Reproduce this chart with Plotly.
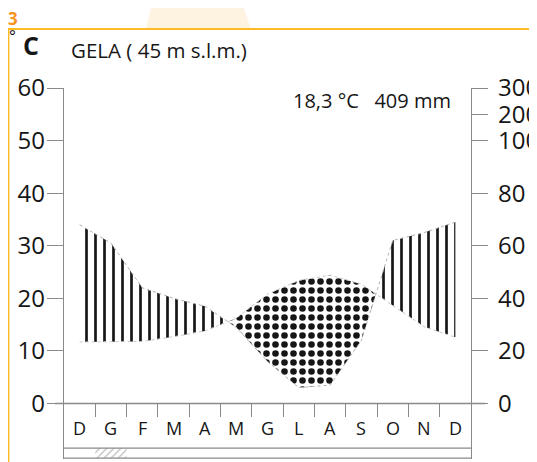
import numpy as np
import plotly.graph_objects as go

# ---------------- data ----------------
months = ["D", "G", "F", "M", "A", "M", "G", "L", "A", "S", "O", "N", "D"]
temp_c = [11.7, 11.7, 11.8, 12.7, 13.8, 16.2, 20.8, 23.4, 24.4, 22.7, 18.7, 14.6, 12.6]
precip_mm = [68, 61, 44, 40, 37, 29, 16, 6, 7, 24, 62, 65, 69]
frost_prob = [0, 1, 0, 0, 0, 0, 0, 0, 0, 0, 0, 0, 0]   # hatched frost month (G)
temp_ticks = [0, 10, 20, 30, 40, 50, 60]
precip_ticks = [0, 20, 40, 60, 80, 100, 200, 300]
station = "GELA ( 45 m s.l.m.)"
summary = "18,3 °C   409 mm"
panel_number = "3"

# ---------------- geometry ----------------
OFF = 8                      # page offset of the plot div (body margin)
W, H = 537 - OFF, 462 - OFF
ML, MR, MT, MB = 56, 66, 80, 3
PW, PH = W - ML - MR, H - MT - MB
YMIN, YMAX = -10.555, 60.0
XMIN, XMAX = 0.0, 13.0


def px_x(p):   # page pixel -> paper x
    return (p - OFF - ML) / PW


def px_y(p):   # page pixel -> paper y
    return (H - MB - (p - OFF)) / PH


def p_scale(p):
    p = np.asarray(p, dtype=float)
    return np.where(p <= 100, p / 2.0, 50 + (p - 100) / 20.0)


xm = np.arange(len(months)) + 0.5
T = np.array(temp_c, dtype=float)
Pe = p_scale(precip_mm)

# insert crossing points so that the humid/arid fills meet exactly
xs, ts, ps = [xm[0]], [T[0]], [Pe[0]]
for i in range(len(xm) - 1):
    d0 = Pe[i] - T[i]
    d1 = Pe[i + 1] - T[i + 1]
    if d0 * d1 < 0:
        f = d0 / (d0 - d1)
        xc = xm[i] + f * (xm[i + 1] - xm[i])
        tc = T[i] + f * (T[i + 1] - T[i])
        xs.append(xc); ts.append(tc); ps.append(tc)
    xs.append(xm[i + 1]); ts.append(T[i + 1]); ps.append(Pe[i + 1])
xs, ts, ps = np.array(xs), np.array(ts), np.array(ps)
upper_h = np.maximum(ps, ts)
lower_a = np.minimum(ps, ts)

INK = "#161616"
AX = "#8a8a8a"
NUMFONT = "Open Sans"

fig = go.Figure()

# humid period: vertical lines
fig.add_trace(go.Scatter(x=xs, y=ts, mode="lines", line=dict(width=0),
                         hoverinfo="skip", showlegend=False))
fig.add_trace(go.Scatter(x=xs, y=upper_h, mode="lines", line=dict(width=0),
                         fill="tonexty", fillcolor=INK,
                         fillpattern=dict(shape="|", size=9, solidity=0.3,
                                          fgcolor=INK, fgopacity=1, bgcolor="white"),
                         hoverinfo="skip", showlegend=False))
# arid period: dots
fig.add_trace(go.Scatter(x=xs, y=lower_a, mode="lines", line=dict(width=0),
                         hoverinfo="skip", showlegend=False))
fig.add_trace(go.Scatter(x=xs, y=ts, mode="lines", line=dict(width=0),
                         fill="tonexty", fillcolor=INK,
                         fillpattern=dict(shape=".", size=9, solidity=0.42,
                                          fgcolor=INK, fgopacity=1, bgcolor="white"),
                         hoverinfo="skip", showlegend=False))
# faint outlines of the curves
fig.add_trace(go.Scatter(x=xm, y=Pe, mode="lines",
                         line=dict(color="#b0b0b0", width=1, dash="dot"),
                         hoverinfo="skip", showlegend=False))
fig.add_trace(go.Scatter(x=xm, y=T, mode="lines",
                         line=dict(color="#c8c8c8", width=1, dash="dot"),
                         hoverinfo="skip", showlegend=False))

# frost strip (hatched month)
for i, f in enumerate(frost_prob):
    if f:
        fig.add_trace(go.Scatter(x=[i, i + 1, i + 1, i, i], y=[-10.4, -10.4, -8.5, -8.5, -10.4],
                                 mode="lines", line=dict(width=0), fill="toself",
                                 fillcolor="#7a7a7a",
                                 fillpattern=dict(shape="/", size=5, solidity=0.25,
                                                  fgcolor="#7a7a7a", bgcolor="white"),
                                 hoverinfo="skip", showlegend=False))
# month label strip
fig.add_shape(type="line", xref="x", yref="y", x0=XMIN, x1=XMAX, y0=-8.5, y1=-8.5,
              line=dict(color=AX, width=1.3))
fig.add_shape(type="line", xref="x", yref="y", x0=XMIN, x1=XMAX, y0=-10.4, y1=-10.4,
              line=dict(color=AX, width=1.3))
# zero baseline extending beyond the axes
fig.add_shape(type="line", xref="paper", yref="y", x0=px_x(55), x1=px_x(485), y0=0, y1=0,
              line=dict(color=AX, width=1.3))

for i, m in enumerate(months):
    fig.add_annotation(x=xm[i], y=-4.66, xref="x", yref="y", text=m, showarrow=False,
                       xanchor="center", yanchor="middle",
                       font=dict(family=NUMFONT, size=18, color=INK))

# decorations: orange frame, peach background blobs
fig.add_shape(type="path", xref="paper", yref="paper", layer="below",
              path=f"M {px_x(146)} {px_y(29)} L {px_x(251)} {px_y(29)} L {px_x(241)} {px_y(0)} L {px_x(153)} {px_y(0)} Z",
              fillcolor="#FEF2E0", line=dict(width=0))
fig.add_shape(type="path", xref="paper", yref="paper", layer="below",
              path=f"M {px_x(0)} {px_y(400)} L {px_x(4)} {px_y(420)} L {px_x(8)} {px_y(463)} L {px_x(0)} {px_y(463)} Z",
              fillcolor="#FEF2E0", line=dict(width=0))
fig.add_shape(type="rect", xref="paper", yref="paper", layer="below",
              x0=px_x(8.5), x1=px_x(535.5), y0=px_y(470), y1=px_y(29),
              line=dict(color="#FDBA24", width=1.8), fillcolor="white")


def label(x, y, text, size, anchor="center", color=INK):
    fig.add_annotation(x=px_x(x), y=px_y(y), xref="paper", yref="paper", text=text,
                       xanchor=anchor, yanchor="middle", showarrow=False,
                       font=dict(family=NUMFONT, size=size, color=color))


label(13, 19, f"<b>{panel_number}</b>", 17, color="#F7931E")
label(12.5, 36, "°", 16)
label(31, 45, "<b>C</b>", 25)
label(69, 50, station, 20.5, anchor="left")
label(453, 100, summary, 20, anchor="right")

fig.update_layout(
    width=W, height=H,
    margin=dict(l=ML, r=MR, t=MT, b=MB, pad=0, autoexpand=False),
    paper_bgcolor="white", plot_bgcolor="rgba(0,0,0,0)",
    showlegend=False,
    xaxis=dict(range=[XMIN, XMAX], anchor="free", position=(0 - YMIN) / (YMAX - YMIN),
               tickvals=list(range(1, 13)), showticklabels=False, ticks="outside",
               ticklen=13, tickwidth=1.3, tickcolor=AX, showline=False, automargin=False,
               showgrid=False, zeroline=False, fixedrange=True),
    yaxis=dict(range=[YMIN, YMAX], tickvals=temp_ticks, ticks="outside", ticklen=16,
               tickwidth=1.3, tickcolor=AX, showline=True, linecolor=AX, linewidth=1.3,
               showgrid=False, zeroline=False, ticklabelstandoff=-3, automargin=False,
               tickfont=dict(family=NUMFONT, size=24, color=INK)),
    yaxis2=dict(range=[YMIN, YMAX], overlaying="y", side="right",
                tickvals=list(p_scale(precip_ticks)), ticktext=[str(v) for v in precip_ticks],
                ticks="outside", ticklen=16, tickwidth=1.3, tickcolor=AX, ticklabelstandoff=5,
                showline=True, linecolor=AX, linewidth=1.3, showgrid=False, zeroline=False,
                automargin=False,
                tickfont=dict(family=NUMFONT, size=24, color=INK)),
)
# give yaxis2 something to attach to
fig.add_trace(go.Scatter(x=[xm[0]], y=[0], yaxis="y2", mode="markers",
                         marker=dict(opacity=0), hoverinfo="skip", showlegend=False))

fig.write_html("out.html")
